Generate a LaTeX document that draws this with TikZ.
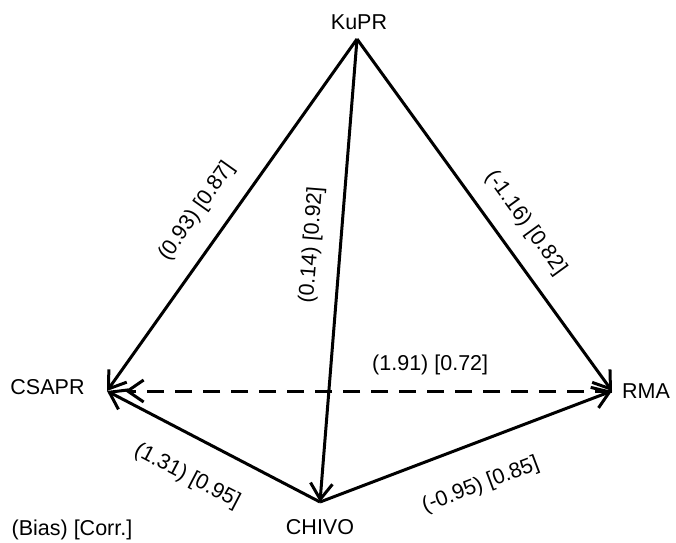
\documentclass[tikz,border=0pt]{standalone}
\usepackage{fontspec}
\setmainfont{Liberation Sans}
\usepackage{tikz}
\usetikzlibrary{arrows.meta, positioning}

\begin{document}
\begin{tikzpicture}[
    x=1pt, y=1pt,
    station/.style={font=\fontsize{21.5}{25}\selectfont, inner sep=0pt},
    lbl/.style={font=\fontsize{21.5}{25}\selectfont, inner sep=2pt},
    arr/.style={-{Straight Barb[length=16pt, width=22pt]}, line width=3pt},
    dasharr/.style={-{Straight Barb[length=16pt, width=22pt]}, line width=3pt, dash pattern=on 17pt off 11pt}
]
\useasboundingbox (0,0) rectangle (676,542);

% Arrow end points
\coordinate (kupr) at (357,503);
\coordinate (csapr) at (107,151);
\coordinate (rma) at (612,151);
\coordinate (chivo) at (320,40);

% Station names
\node[station] (kuprT) at (359,520) {KuPR};
\node[station] (csaprT) at (47.5,155) {CSAPR};
\node[station] (rmaT) at (646,151) {RMA};
\node[station] (chivoT) at (320,15) {CHIVO};
\node[station] (legend) at (72,12) {(Bias) [Corr.]};

% Arrows
\draw[arr] (kupr) -- (csapr) node[pos=0.54, sloped, above=17pt, lbl] {(0.93) [0.87]};
\draw[arr] (kupr) -- (chivo) node[pos=0.45, sloped, above=15pt, lbl] {(0.14) [0.92]};
\draw[arr] (kupr) -- (rma) node[pos=0.57, sloped, above=15pt, lbl] {(-1.16) [0.82]};
\draw[dasharr, shorten >=18pt] (rma) -- (csapr) node[pos=0.36, above=13pt, lbl] {(1.91) [0.72]};
\draw[arr] (chivo) -- (csapr) node[pos=0.54, sloped, below=25pt, lbl] {(1.31) [0.95]};
\draw[arr] (chivo) -- (rma) node[pos=0.5, sloped, below=28pt, lbl] {(-0.95) [0.85]};

\end{tikzpicture}
\end{document}
